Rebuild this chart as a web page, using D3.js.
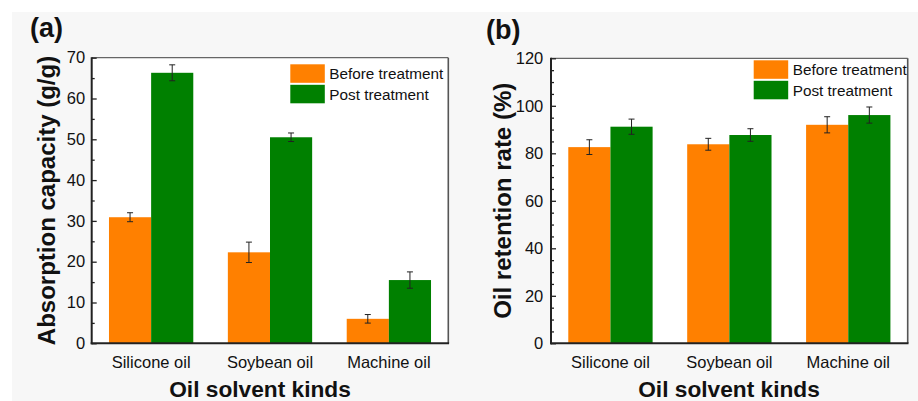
<!DOCTYPE html>
<html>
<head>
<meta charset="utf-8">
<script src="https://cdn.jsdelivr.net/npm/d3@7"></script>
<style>
  html, body { margin: 0; padding: 0; background: #ffffff; }
  svg { display: block; font-family: "Liberation Sans", Arial, sans-serif; }
</style>
</head>
<body>
<svg id="chart" width="918" height="401"></svg>
<script>
// ---- data ----
const categories = ["Silicone oil", "Soybean oil", "Machine oil"];
const seriesNames = ["Before treatment", "Post treatment"];
const seriesColors = ["#FF8000", "#008000"];

const absBefore = [30.9, 22.3, 6.0];
const absBeforeErr = [1.1, 2.5, 1.05];
const absPost = [66.3, 50.5, 15.5];
const absPostErr = [1.95, 1.05, 2.0];

const retBefore = [82.6, 83.8, 92.0];
const retBeforeErr = [3.1, 2.5, 3.4];
const retPost = [91.2, 87.7, 96.1];
const retPostErr = [3.2, 2.65, 3.4];

const absTicks = [0, 10, 20, 30, 40, 50, 60, 70];
const retTicks = [0, 20, 40, 60, 80, 100, 120];

const FONT = "'Liberation Sans', Arial, sans-serif";
const svg = d3.select("#chart");
// light grey figure background
svg.append("rect").attr("x", 12).attr("y", 12).attr("width", 906).attr("height", 389).attr("fill", "#f7f7f7");

function panel(opts) {
  const {L, R, T, B, max, ticks, minorStep, before, beforeErr, post, postErr,
         label, labelX, labelY, yTitle, yTitleX, xTitleX, legX, legY, tickLabelGap} = opts;
  const g = svg.append("g").attr("font-family", FONT);
  g.append("rect").attr("x", L).attr("y", T).attr("width", R - L).attr("height", B - T).attr("fill", "#ffffff");

  const x0 = d3.scaleBand().domain(categories).range([L, R]).padding(0);
  const x1 = d3.scaleBand().domain(seriesNames).range([0, x0.bandwidth()]).paddingInner(0).paddingOuter(0.41);
  const y = d3.scaleLinear().domain([0, max]).range([B, T]);

  const rows = categories.map((c, i) => ({c, vals: [
    {s: seriesNames[0], v: before[i], e: beforeErr[i], col: seriesColors[0]},
    {s: seriesNames[1], v: post[i], e: postErr[i], col: seriesColors[1]}
  ]}));

  const grp = g.selectAll("g.cat").data(rows).enter().append("g")
    .attr("transform", d => `translate(${x0(d.c)},0)`);
  grp.selectAll("rect").data(d => d.vals).enter().append("rect")
    .attr("x", d => x1(d.s)).attr("y", d => y(d.v))
    .attr("width", x1.bandwidth()).attr("height", d => y(0) - y(d.v))
    .attr("fill", d => d.col);
  // error bars
  const eb = grp.selectAll("g.eb").data(d => d.vals).enter().append("g")
    .attr("stroke", "#222").attr("stroke-width", 1);
  const cx = d => x1(d.s) + x1.bandwidth() / 2;
  eb.append("line").attr("x1", cx).attr("x2", cx)
    .attr("y1", d => y(d.v + d.e)).attr("y2", d => y(d.v - d.e));
  eb.append("line").attr("x1", d => cx(d) - 3).attr("x2", d => cx(d) + 3)
    .attr("y1", d => y(d.v + d.e)).attr("y2", d => y(d.v + d.e));
  eb.append("line").attr("x1", d => cx(d) - 3).attr("x2", d => cx(d) + 3)
    .attr("y1", d => y(d.v - d.e)).attr("y2", d => y(d.v - d.e));

  // frame
  g.append("line").attr("x1", L).attr("x2", R).attr("y1", T).attr("y2", T).attr("stroke", "#666").attr("stroke-width", 1.2);
  g.append("line").attr("x1", R).attr("x2", R).attr("y1", T).attr("y2", B).attr("stroke", "#555").attr("stroke-width", 1.6);

  // y axis (ticks inward)
  const ya = g.append("g").attr("transform", `translate(${L},0)`)
    .call(d3.axisRight(y).tickValues(ticks).tickSize(5).tickFormat(""));
  ya.select(".domain").remove();
  ya.selectAll("line").attr("stroke", "#222").attr("stroke-width", 1.3);
  const minor = d3.range(0, max + 0.001, minorStep).filter(v => !ticks.includes(v));
  const ym = g.append("g").attr("transform", `translate(${L},0)`)
    .call(d3.axisRight(y).tickValues(minor).tickSize(3).tickFormat(""));
  ym.select(".domain").remove();
  ym.selectAll("line").attr("stroke", "#222").attr("stroke-width", 1.3);
  g.selectAll("text.ytl").data(ticks).enter().append("text").attr("class", "ytl")
    .attr("x", L - tickLabelGap).attr("y", d => y(d)).attr("dy", "0.35em")
    .attr("text-anchor", "end").attr("font-size", 16.5).attr("fill", "#111").text(d => d);

  // axes lines
  g.append("line").attr("x1", L).attr("x2", L).attr("y1", T - 0.5).attr("y2", B + 1).attr("stroke", "#222").attr("stroke-width", 2);
  const xa = g.append("g").attr("transform", `translate(0,${B})`).call(d3.axisBottom(x0).tickSize(0).tickPadding(0));
  xa.attr("font-family", FONT);
  xa.select(".domain").remove();
  xa.selectAll("text").attr("font-size", 16.5).attr("fill", "#111")
    .attr("dy", null).attr("y", 25);
  g.append("line").attr("x1", L - 1).attr("x2", R + 0.8).attr("y1", B).attr("y2", B).attr("stroke", "#222").attr("stroke-width", 2);

  // titles
  g.append("text").attr("x", xTitleX).attr("y", 396.5).attr("text-anchor", "middle")
    .attr("font-size", 22.7).attr("font-weight", "bold").attr("fill", "#111").text("Oil solvent kinds");
  g.append("text").attr("transform", `translate(${yTitleX},${(T + B) / 2}) rotate(-90)`).attr("text-anchor", "middle")
    .attr("font-size", 24).attr("font-weight", "bold").attr("fill", "#111").text(yTitle);
  g.append("text").attr("x", labelX).attr("y", labelY).attr("font-size", 27).attr("font-weight", "bold").attr("fill", "#111").text(label);

  // legend
  const lg = g.append("g").attr("transform", `translate(${legX},${legY})`);
  seriesNames.forEach((s, i) => {
    lg.append("rect").attr("x", 0).attr("y", i * 20.5).attr("width", 34.5).attr("height", 18.5).attr("fill", seriesColors[i]);
    lg.append("text").attr("x", 39).attr("y", i * 20.5 + 9.5).attr("dy", "0.35em")
      .attr("font-size", 15.3).attr("fill", "#111").text(s);
  });
}

panel({L: 91.7, R: 448.3, T: 57.7, B: 343.3, max: 70, ticks: absTicks, minorStep: 5,
  before: absBefore, beforeErr: absBeforeErr, post: absPost, postErr: absPostErr,
  label: "(a)", labelX: 30, labelY: 37, yTitle: "Absorption capacity (g/g)", yTitleX: 55,
  xTitleX: 260, legX: 290.3, legY: 64.3, tickLabelGap: 6.5});

panel({L: 551, R: 907.7, T: 58.3, B: 343.3, max: 120, ticks: retTicks, minorStep: 5,
  before: retBefore, beforeErr: retBeforeErr, post: retPost, postErr: retPostErr,
  label: "(b)", labelX: 486, labelY: 38.5, yTitle: "Oil retention rate (%)", yTitleX: 511,
  xTitleX: 729, legX: 753.7, legY: 60.3, tickLabelGap: 7.7});
</script>
</body>
</html>
